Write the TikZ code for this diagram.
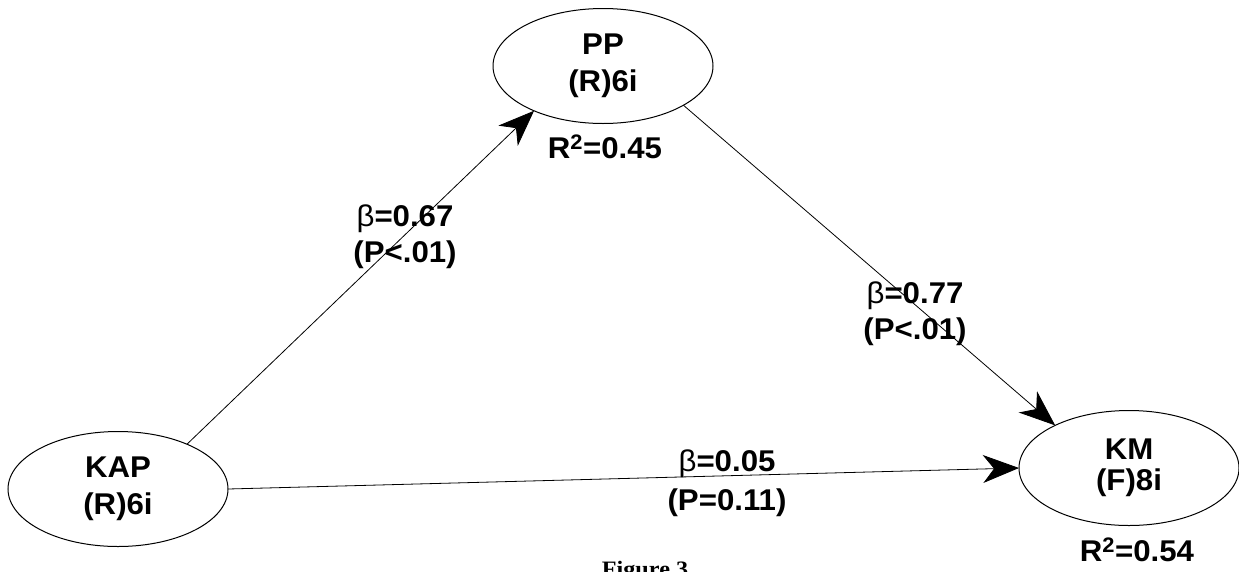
\documentclass[tikz,border=0pt]{standalone}
\usepackage{fontspec}
\setmainfont{Liberation Sans}[FakeStretch=1.04]
\newfontfamily\capfont{Liberation Serif}[FakeStretch=1.1]
\usetikzlibrary{arrows.meta,shapes.geometric}
\tikzset{
  latent/.style={ellipse, draw, line width=1pt, minimum width=220pt, minimum height=115pt, inner sep=0pt, outer sep=0pt, align=center, font=\fontsize{30}{37}\selectfont\bfseries},
  path/.style={line width=0.8pt, -{Stealth[length=36pt,width=28pt,inset=11pt]}},
  coef/.style={align=center, inner sep=0pt, font=\fontsize{30}{36}\selectfont\bfseries},
  rsq/.style={inner sep=0pt, font=\fontsize{30}{32}\selectfont\bfseries}
}
\newcommand{\bet}{{\mdseries β}}
\begin{document}
\begin{tikzpicture}[x=1pt,y=-1pt]
\useasboundingbox (0,0) rectangle (1239,571);
\node[latent] (PP) at (603,66) {PP\\(R)6i};
\node[latent] (KAP) at (118,489) {KAP\\(R)6i};
\node[latent, font=\fontsize{30}{31}\selectfont\bfseries] (KM) at (1129,468) {KM\\(F)8i};
\node[rsq] (r1) at (605,147) {R\textsuperscript{2}=0.45};
\node[rsq] (r2) at (1137,550) {R\textsuperscript{2}=0.54};
\draw[path] (KAP.33) -- (PP.213);
\draw[path] (PP.-26) -- (KM.150);
\draw[path] (KAP.east) -- (KM.west);
\node[coef] (c1) at (405,237) {\bet=0.67\\(P<.01)};
\node[coef] (c2) at (915,314) {\bet=0.77\\(P<.01)};
\node[coef, font=\fontsize{30}{39}\selectfont\bfseries] (c3) at (727,483) {\bet=0.05\\(P=0.11)};
\node[anchor=base, inner sep=0pt, font=\fontsize{22}{26}\selectfont\capfont\bfseries] (fig) at (645,576) {Figure 3};
\end{tikzpicture}
\end{document}
